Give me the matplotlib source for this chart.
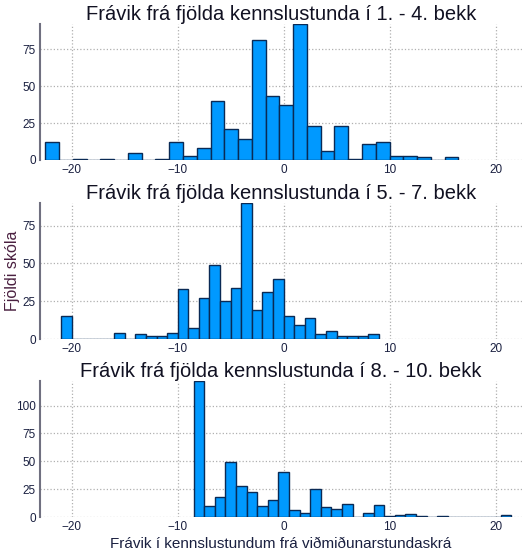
import numpy as np
import matplotlib
matplotlib.use("Agg")
import matplotlib.pyplot as plt

plt.rcParams["font.family"] = ["Liberation Sans", "DejaVu Sans"]

titles = [
    "Frávik frá fjölda kennslustunda í 1. - 4. bekk",
    "Frávik frá fjölda kennslustunda í 5. - 7. bekk",
    "Frávik frá fjölda kennslustunda í 8. - 10. bekk",
]

# panel 1: bins from -22.5, width 1.3
start1, width1 = -22.5, 1.3
counts1 = [12, 0, 1, 0, 1, 0, 5, 0, 1, 12, 3, 8, 40, 21, 14, 81, 43, 37, 92,
           23, 6, 23, 1, 11, 12, 3, 3, 2, 0, 2]
# panel 2: bins from -21, width 1
start2, width2 = -21.0, 1.0
counts2 = [15, 0, 0, 0, 0, 4, 0, 3, 2, 2, 4, 33, 7, 27, 49, 25, 34, 90, 19,
           31, 40, 15, 9, 14, 3, 5, 2, 2, 2, 3]
# panel 3: bins from -8.5, width 1
start3, width3 = -8.5, 1.0
counts3 = [122, 10, 18, 49, 28, 22, 10, 15, 40, 6, 4, 25, 9, 7, 12, 0, 4, 11,
           1, 2, 3, 1, 0, 1, 0, 0, 0, 0, 0, 2]

panels = [(start1, width1, counts1, [0, 25, 50, 75]),
          (start2, width2, counts2, [0, 25, 50, 75]),
          (start3, width3, counts3, [0, 25, 50, 75, 100])]

fig = plt.figure(figsize=(5.28, 5.52), dpi=100)
tops = [24, 203, 381]
H = 136
for i, (s, w, c, yt) in enumerate(panels):
    ax = fig.add_axes([40 / 528, 1 - (tops[i] + H) / 552, 482 / 528, H / 552])
    edges = s + w * np.arange(len(c))
    ax.bar(edges, c, width=w, align="edge", color="#0099ff",
           edgecolor="#0a2a55", linewidth=1.0, zorder=3)
    ax.set_xlim(-23, 22.5)
    ax.set_ylim(0, max(c))
    ax.set_yticks(yt)
    ax.set_xticks([-20, -10, 0, 10, 20])
    ax.grid(True, linestyle=":", color="#b0b0b0", linewidth=0.9, zorder=0)
    for sp in ["top", "right", "bottom"]:
        ax.spines[sp].set_visible(False)
    ax.spines["left"].set_color("#707080")
    ax.spines["left"].set_linewidth(1.5)
    ax.tick_params(length=0, labelsize=8.5, colors="#1a2040", pad=3)
    ax.set_title(titles[i], fontsize=14.5, pad=3, color="#111122")
    if i == 1:
        ax.set_ylabel("Fjöldi skóla", fontsize=11.5, color="#4a2040")
        ax.yaxis.set_label_coords(-0.042, 0.5)
    if i == 2:
        ax.set_xlabel("Frávik í kennslustundum frá viðmiðunarstundaskrá",
                      fontsize=11, color="#1a2040", labelpad=3)

fig.savefig("out.png", dpi=100)
